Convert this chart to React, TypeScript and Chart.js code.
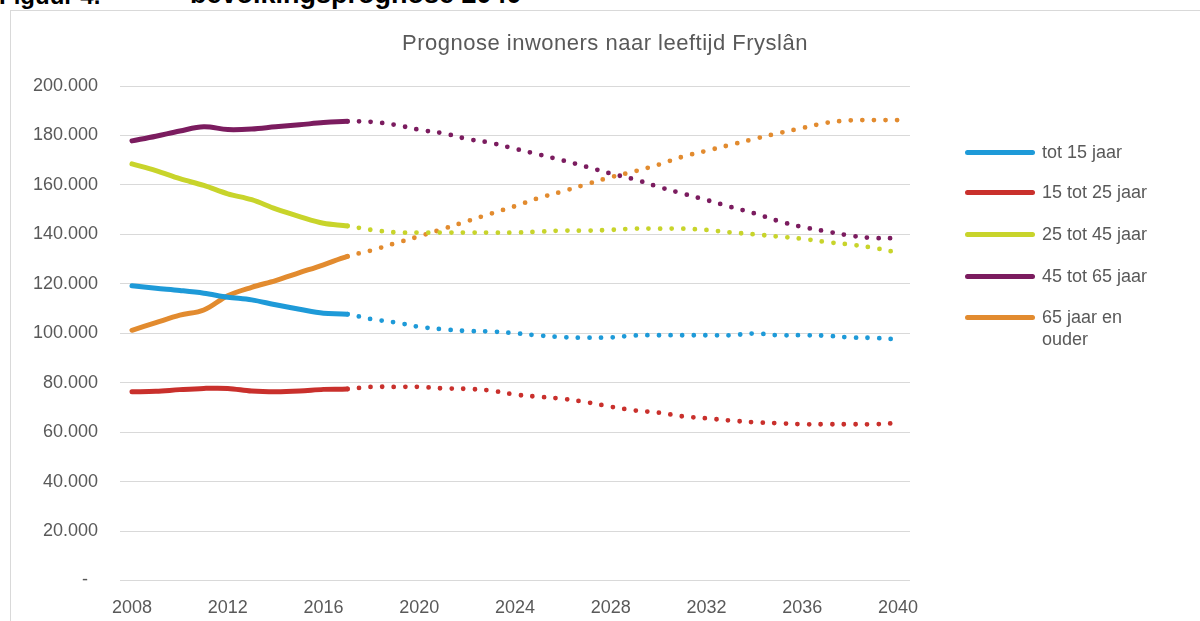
import React, { useEffect, useRef } from 'react';
import { Chart, registerables } from 'chart.js';

Chart.register(...registerables);

const FONT = '"Liberation Sans", Arial, Helvetica, sans-serif';

const years = [
  '2008', '2009', '2010', '2011', '2012', '2013', '2014', '2015', '2016', '2017', '2018',
  '2019', '2020', '2021', '2022', '2023', '2024', '2025', '2026', '2027', '2028', '2029',
  '2030', '2031', '2032', '2033', '2034', '2035', '2036', '2037', '2038', '2039', '2040',
];

const xTickLabels = ['2008', '2012', '2016', '2020', '2024', '2028', '2032', '2036', '2040'];

// last year of registered (solid) data; projection (dotted) after it
const lastObservedYear = '2017';

const tot15 = [
  119200, 118200, 117300, 116200, 114600, 113500, 111500, 109700, 108100, 107700, 105700,
  104400, 102600, 101600, 100900, 100700, 100000, 99100, 98400, 98200, 98300, 99100,
  99200, 99200, 99200, 99200, 99900, 99200, 99200, 99000, 98300, 98100, 97500,
];

const van15tot25 = [
  76300, 76500, 77200, 77700, 77700, 76600, 76300, 76600, 77300, 77500, 78300,
  78300, 78300, 77700, 77500, 76800, 75200, 74300, 73500, 72100, 70300, 68800,
  67900, 66400, 65600, 64700, 64000, 63600, 63200, 63200, 63200, 63200, 63700,
];

const van25tot45 = [
  168500, 165800, 162500, 159800, 156400, 154000, 150300, 147200, 144500, 143400, 141800,
  140800, 140700, 140700, 140700, 140700, 140700, 141100, 141500, 141500, 141800, 142300,
  142300, 142300, 141800, 140800, 140000, 139100, 138200, 136900, 135900, 134500, 132600,
];

const van45tot65 = [
  177800, 179700, 181800, 183500, 182400, 182600, 183500, 184300, 185200, 185700, 185500,
  184300, 182300, 180900, 178600, 177000, 174600, 172300, 169900, 167300, 164600, 162200,
  159200, 156500, 153900, 151100, 148500, 145400, 143000, 141200, 139500, 138500, 138500,
];

const van65 = [
  101200, 104300, 107300, 109400, 115200, 118600, 121300, 124500, 127700, 131100, 133500,
  136400, 139200, 142200, 145300, 148400, 151400, 154700, 157400, 160300, 163100, 165500,
  168200, 171400, 173800, 176200, 178600, 180900, 183000, 185100, 186100, 186200, 186200,
];

const seriesLabels = ['tot 15 jaar', '15 tot 25 jaar', '25 tot 45 jaar', '45 tot 65 jaar', '65 jaar en ouder'];
const legendLines = [['tot 15 jaar'], ['15 tot 25 jaar'], ['25 tot 45 jaar'], ['45 tot 65 jaar'], ['65 jaar en', 'ouder']];
const seriesColors = ['#1e9ad8', '#c9302c', '#c8d42b', '#7b1c5f', '#e28b2f'];
const seriesData = [tot15, van15tot25, van25tot45, van45tot65, van65];

const title = 'Prognose inwoners naar leeftijd Fryslân';

function fmt(v: number): string {
  if (v === 0) return '-  ';
  return String(v).replace(/\B(?=(\d{3})+(?!\d))/g, '.');
}

export default function App() {
  const ref = useRef<HTMLCanvasElement>(null);

  useEffect(() => {
    document.body.style.margin = '0';
    const canvas = ref.current;
    if (!canvas) return;
    const projStart = years.indexOf(lastObservedYear);

    const datasets = seriesData.map((data, i) => ({
      label: seriesLabels[i],
      data,
      borderColor: seriesColors[i],
      backgroundColor: seriesColors[i],
      borderWidth: 5,
      pointRadius: 0,
      pointHoverRadius: 0,
      tension: 0.35,
      fill: false,
      borderCapStyle: 'round' as const,
      borderJoinStyle: 'round' as const,
      segment: {
        borderDash: (ctx: any) => (ctx.p0DataIndex >= projStart ? [0, 11.6] : undefined),
        borderWidth: (ctx: any) => (ctx.p0DataIndex >= projStart ? 4.8 : undefined),
      },
    }));

    const chart = new Chart(canvas, {
      type: 'line',
      data: { labels: years, datasets },
      options: {
        responsive: false,
        animation: false,
        events: [],
        layout: { padding: { left: 0, right: 290, top: 86, bottom: 0 } },
        plugins: {
          legend: { display: false },
          title: { display: false },
          tooltip: { enabled: false },
        },
        scales: {
          x: {
            type: 'category',
            offset: true,
            grid: { display: false },
            border: { display: false },
            ticks: {
              autoSkip: false,
              maxRotation: 0,
              minRotation: 0,
              color: '#595959',
              font: { family: FONT, size: 18 },
              padding: 9,
              callback: function (this: any, val: any) {
                const l = this.getLabelForValue(val);
                return xTickLabels.includes(l) ? l : '';
              },
            },
            afterFit: (s: any) => {
              s.height = 40.5;
            },
          },
          y: {
            min: 0,
            max: 200000,
            ticks: {
              stepSize: 20000,
              color: '#595959',
              font: { family: FONT, size: 18 },
              padding: 22,
              callback: (v: any) => fmt(Number(v)),
            },
            grid: { color: '#d9d9d9', lineWidth: 1, drawTicks: false },
            border: { display: false },
            afterFit: (s: any) => {
              s.width = 120;
            },
          },
        },
      },
    });
    return () => chart.destroy();
  }, []);

  const legendY = [152, 192, 234, 276, 317];

  return (
    <div style={{ position: 'relative', width: 1200, height: 621, overflow: 'hidden', background: '#fff', fontFamily: FONT }}>
      <div
        style={{
          position: 'absolute',
          left: -1,
          top: -16,
          fontSize: 24,
          fontWeight: 'bold',
          lineHeight: '24px',
          color: '#000',
          whiteSpace: 'pre',
        }}
      >
        Figuur 4.
      </div>
      <div
        style={{
          position: 'absolute',
          left: 190,
          top: -19,
          fontSize: 27,
          fontWeight: 'bold',
          lineHeight: '27px',
          color: '#000',
          whiteSpace: 'pre',
        }}
      >
        bevolkingsprognose 2040
      </div>
      <div
        style={{
          position: 'absolute',
          left: 10,
          top: 10,
          width: 1200,
          height: 700,
          border: '1px solid #d9d9d9',
        }}
      />
      <canvas ref={ref} width={1200} height={621} style={{ position: 'absolute', left: 0, top: 0, width: 1200, height: 621 }} />
      <div
        style={{
          position: 'absolute',
          left: 0,
          width: 1210,
          top: 30,
          textAlign: 'center',
          fontSize: 22,
          lineHeight: '26px',
          color: '#595959',
          letterSpacing: 0.5,
        }}
      >
        {title}
      </div>
      {legendLines.map((lines, i) => (
        <React.Fragment key={i}>
          <div
            style={{
              position: 'absolute',
              left: 965,
              top: legendY[i] - 2.5,
              width: 70,
              height: 5,
              borderRadius: 2.5,
              background: seriesColors[i],
            }}
          />
          <div
            style={{
              position: 'absolute',
              left: 1042,
              top: legendY[i] - 11,
              fontSize: 18,
              lineHeight: '22px',
              color: '#595959',
            }}
          >
            {lines.map((t, j) => (
              <div key={j}>{t}</div>
            ))}
          </div>
        </React.Fragment>
      ))}
    </div>
  );
}
